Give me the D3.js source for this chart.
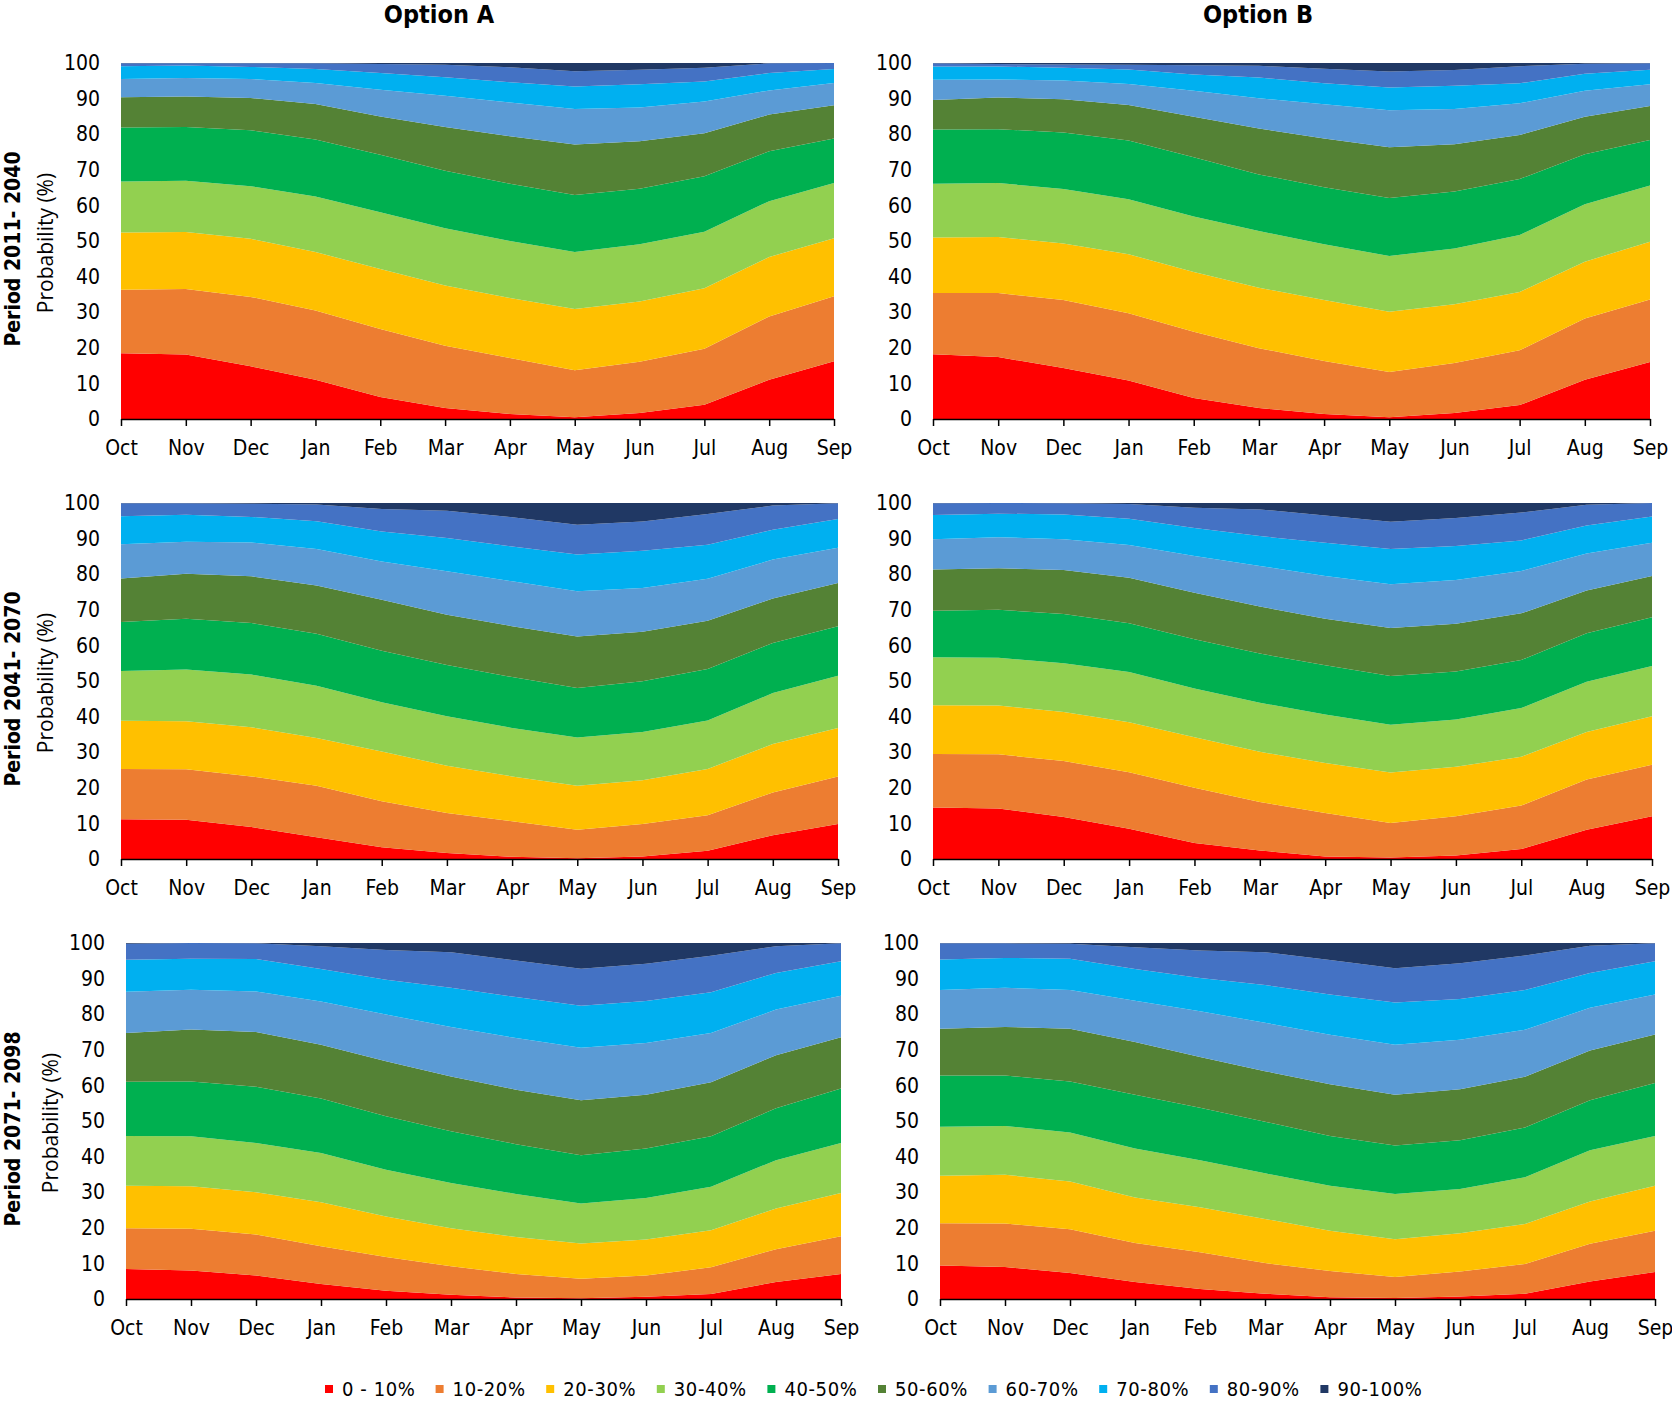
<!DOCTYPE html>
<html>
<head>
<meta charset="utf-8">
<script src="https://cdn.jsdelivr.net/npm/d3@7"></script>
<style>
  body { margin: 0; background: #fff; }
  svg { display: block; }
</style>
</head>
<body>
<div id="chart"></div>
<script>
// ---- data ----
const months = ["Oct", "Nov", "Dec", "Jan", "Feb", "Mar", "Apr", "May", "Jun", "Jul", "Aug", "Sep"];
const bandLabels = ["0 - 10%", "10-20%", "20-30%", "30-40%", "40-50%", "50-60%", "60-70%", "70-80%", "80-90%", "90-100%"];
const bandColors = ["#ff0000", "#ed7d31", "#ffc000", "#92d050", "#00b050", "#548235", "#5b9bd5", "#00b0f0", "#4472c4", "#203864"];
const optionTitles = ["Option A", "Option B"];
const periodLabels = ["Period 2011- 2040", "Period 2041- 2070", "Period 2071- 2098"];
const yTicks = [0, 10, 20, 30, 40, 50, 60, 70, 80, 90, 100];

// cumulative probability (%) at the top of the first 9 classes, one row per month (Oct..Sep)
const optA_2011_2040 = [
  [18.5, 36.3, 52.4, 66.7, 81.9, 90.4, 95.5, 99.1, 99.9],
  [18.1, 36.5, 52.5, 66.9, 82.0, 90.6, 95.8, 99.3, 99.9],
  [14.8, 34.3, 50.6, 65.4, 81.1, 90.2, 95.5, 98.9, 99.9],
  [11.0, 30.5, 46.9, 62.5, 78.5, 88.5, 94.4, 98.3, 99.9],
  [6.2, 25.3, 42.1, 58.1, 74.2, 85.0, 92.5, 97.2, 99.7],
  [3.1, 20.6, 37.5, 53.6, 69.7, 82.0, 90.8, 96.0, 99.5],
  [1.4, 17.1, 34.0, 50.0, 66.1, 79.4, 88.9, 94.6, 98.8],
  [0.5, 13.7, 30.9, 46.9, 62.9, 77.1, 87.1, 93.4, 97.7],
  [1.7, 16.1, 33.0, 49.1, 64.7, 78.0, 87.5, 94.0, 98.1],
  [4.0, 19.7, 36.7, 52.6, 68.2, 80.3, 89.2, 94.8, 98.7],
  [11.0, 28.8, 45.5, 61.2, 75.2, 85.5, 92.3, 97.2, 99.9],
  [16.2, 34.5, 50.8, 66.3, 78.8, 88.1, 94.4, 98.3, 100]
];
const optB_2011_2040 = [
  [18.2, 35.4, 51.0, 66.1, 81.3, 89.6, 95.3, 99.0, 99.9],
  [17.4, 35.4, 51.1, 66.3, 81.4, 90.3, 95.4, 99.0, 99.7],
  [14.3, 33.4, 49.3, 64.6, 80.5, 89.8, 95.1, 98.7, 99.6],
  [10.8, 29.7, 46.3, 61.7, 78.2, 88.2, 94.1, 98.2, 99.5],
  [5.9, 24.5, 41.3, 56.9, 73.5, 84.9, 92.2, 96.8, 99.4],
  [3.1, 19.9, 36.9, 52.8, 68.7, 81.6, 90.1, 95.9, 99.2],
  [1.4, 16.3, 33.4, 49.1, 65.1, 78.8, 88.4, 94.3, 98.4],
  [0.5, 13.2, 30.1, 45.8, 62.1, 76.3, 86.7, 93.1, 97.6],
  [1.7, 15.7, 32.2, 47.9, 63.9, 77.2, 87.1, 93.6, 98.0],
  [3.9, 19.3, 35.7, 51.7, 67.4, 79.8, 88.7, 94.3, 99.1],
  [11.0, 28.2, 44.2, 60.3, 74.4, 84.9, 92.2, 97.0, 99.8],
  [16.0, 33.6, 49.8, 65.6, 78.4, 87.9, 94.0, 98.1, 99.9]
];
const optA_2041_2070 = [
  [11.2, 25.3, 38.8, 52.8, 66.6, 78.8, 88.4, 96.3, 99.9],
  [11.0, 25.2, 38.7, 53.2, 67.5, 80.1, 89.1, 96.7, 99.9],
  [9.0, 23.2, 37.0, 51.8, 66.3, 79.4, 88.9, 96.1, 99.8],
  [6.1, 20.6, 34.0, 48.7, 63.3, 76.8, 87.1, 94.9, 99.6],
  [3.3, 16.2, 30.2, 44.0, 58.5, 72.8, 83.6, 92.0, 98.3],
  [1.7, 12.9, 26.2, 40.1, 54.5, 68.6, 80.8, 90.2, 97.8],
  [0.6, 10.6, 23.2, 36.8, 51.1, 65.4, 78.0, 87.8, 96.0],
  [0.2, 8.2, 20.6, 34.1, 48.0, 62.5, 75.2, 85.5, 93.9],
  [0.7, 9.8, 22.1, 35.7, 49.9, 63.8, 76.1, 86.6, 94.8],
  [2.3, 12.3, 25.3, 38.9, 53.4, 66.9, 78.7, 88.3, 96.9],
  [6.7, 18.7, 32.3, 46.6, 60.7, 73.2, 84.1, 92.5, 99.3],
  [9.8, 23.2, 36.8, 51.5, 65.4, 77.5, 87.4, 95.5, 99.9]
];
const optB_2041_2070 = [
  [14.5, 29.5, 43.2, 56.7, 69.7, 81.3, 89.8, 96.6, 99.9],
  [14.2, 29.4, 43.1, 56.5, 70.0, 81.7, 90.4, 97.0, 100],
  [11.8, 27.5, 41.3, 55.0, 68.8, 81.2, 89.8, 96.8, 99.9],
  [8.5, 24.4, 38.4, 52.5, 66.2, 79.0, 88.2, 95.6, 99.7],
  [4.5, 20.0, 34.2, 47.9, 61.7, 74.8, 85.1, 93.0, 98.7],
  [2.4, 16.0, 30.1, 43.9, 57.7, 70.9, 82.3, 90.7, 98.2],
  [0.7, 12.9, 27.0, 40.6, 54.4, 67.5, 79.5, 88.8, 96.5],
  [0.4, 10.1, 24.3, 37.7, 51.4, 64.9, 77.2, 87.1, 94.7],
  [1.0, 12.0, 25.9, 39.2, 52.7, 66.1, 78.4, 87.9, 95.8],
  [2.8, 15.0, 28.7, 42.4, 55.9, 69.0, 80.9, 89.5, 97.3],
  [8.2, 22.3, 35.7, 49.8, 63.4, 75.4, 85.8, 93.7, 99.5],
  [12.0, 26.5, 40.1, 54.2, 67.9, 79.5, 88.8, 96.2, 100]
];
const optA_2071_2098 = [
  [8.4, 19.9, 31.8, 45.8, 61.0, 74.7, 86.3, 95.3, 99.8],
  [8.0, 19.7, 31.7, 45.7, 61.1, 75.7, 86.9, 95.6, 100],
  [6.6, 18.1, 30.0, 43.8, 59.6, 75.0, 86.4, 95.5, 99.9],
  [4.2, 14.8, 27.2, 41.0, 56.3, 71.4, 83.6, 92.7, 99.1],
  [2.3, 11.8, 23.2, 36.3, 51.3, 66.8, 79.9, 89.7, 98.0],
  [1.2, 9.2, 19.9, 32.6, 47.1, 62.5, 76.4, 87.4, 97.4],
  [0.4, 7.0, 17.4, 29.5, 43.5, 58.8, 73.3, 84.8, 95.1],
  [0.2, 5.7, 15.6, 26.8, 40.4, 55.8, 70.6, 82.4, 92.8],
  [0.6, 6.6, 16.7, 28.4, 42.3, 57.4, 71.9, 83.7, 94.2],
  [1.4, 8.9, 19.3, 31.5, 45.7, 60.9, 74.7, 86.2, 96.4],
  [4.8, 14.0, 25.4, 39.0, 53.6, 68.5, 81.3, 91.6, 99.1],
  [7.0, 17.6, 29.8, 43.8, 59.1, 73.5, 85.2, 94.9, 99.9]
];
const optB_2071_2098 = [
  [9.4, 21.3, 34.6, 48.4, 62.8, 75.9, 86.8, 95.4, 99.9],
  [9.0, 21.2, 34.9, 48.6, 62.8, 76.4, 87.4, 95.8, 99.9],
  [7.3, 19.6, 33.0, 46.8, 61.1, 75.9, 86.8, 95.6, 99.8],
  [4.8, 15.7, 28.5, 42.3, 57.4, 72.2, 83.8, 92.7, 98.8],
  [2.8, 13.1, 25.8, 39.0, 53.7, 68.0, 80.8, 90.2, 97.9],
  [1.5, 10.1, 22.5, 35.3, 49.8, 64.0, 77.6, 88.2, 97.4],
  [0.5, 7.9, 19.2, 31.8, 45.8, 60.3, 74.2, 85.5, 95.2],
  [0.3, 6.2, 16.8, 29.5, 43.1, 57.4, 71.4, 83.3, 92.9],
  [0.7, 7.7, 18.5, 30.9, 44.6, 58.9, 72.8, 84.3, 94.3],
  [1.5, 9.8, 21.1, 34.2, 48.2, 62.4, 75.6, 86.8, 96.5],
  [4.9, 15.5, 27.4, 41.8, 55.8, 69.8, 81.8, 91.6, 99.2],
  [7.6, 19.2, 31.8, 45.8, 60.7, 74.3, 85.5, 94.9, 99.9]
];

// ---- layout ----
const W = 1672, H = 1403;
const tickFont = '"Liberation Sans Narrow", "DejaVu Sans Condensed", "Liberation Sans", sans-serif';

const panels = [
  { row: 0, col: 0, data: optA_2011_2040, left: 121, right: 834, top: 63, bottom: 419 },
  { row: 0, col: 1, data: optB_2011_2040, left: 933, right: 1650, top: 63, bottom: 419 },
  { row: 1, col: 0, data: optA_2041_2070, left: 121, right: 838, top: 503, bottom: 859 },
  { row: 1, col: 1, data: optB_2041_2070, left: 933, right: 1652, top: 503, bottom: 859 },
  { row: 2, col: 0, data: optA_2071_2098, left: 126, right: 841, top: 943, bottom: 1299 },
  { row: 2, col: 1, data: optB_2071_2098, left: 940, right: 1655, top: 943, bottom: 1299 }
];

const svg = d3.select("#chart").append("svg")
  .attr("width", W)
  .attr("height", H)
  .style("font-family", tickFont);

// lower / upper bound of class k for one month row
const lower = (row, k) => k === 0 ? 0 : row[k - 1];
const upper = (row, k) => k === bandLabels.length - 1 ? 100 : row[k];

panels.forEach(p => {
  const x = d3.scalePoint().domain(months).range([p.left, p.right]).padding(0);
  const y = d3.scaleLinear().domain([0, 100]).range([p.bottom, p.top]);

  const g = svg.append("g");

  bandLabels.forEach((lab, k) => {
    const area = d3.area()
      .x((d, i) => x(months[i]))
      .y0(d => y(lower(d, k)))
      .y1(d => y(upper(d, k)))
      .curve(d3.curveLinear);
    g.append("path")
      .datum(p.data)
      .attr("fill", bandColors[k])
      .attr("d", area);
  });

  // x axis
  const xAxis = g.append("g")
    .attr("transform", `translate(0,${p.bottom})`)
    .call(d3.axisBottom(x).tickSize(7).tickPadding(14).tickSizeOuter(0));
  xAxis.select(".domain").attr("stroke", "#000").attr("stroke-width", 1.5);
  xAxis.selectAll(".tick line").attr("stroke", "#000").attr("stroke-width", 1.5);
  xAxis.selectAll("text")
    .attr("fill", "#000")
    .style("font-size", "21px")
    .style("font-family", tickFont);

  // y axis (labels only)
  const yAxis = g.append("g")
    .attr("transform", `translate(${p.left},0)`)
    .call(d3.axisLeft(y).tickValues(yTicks).tickSize(0).tickPadding(21));
  yAxis.select(".domain").remove();
  yAxis.selectAll("text")
    .attr("fill", "#000")
    .style("font-size", "21px")
    .style("font-family", tickFont);

  if (p.col === 0) {
    const cy = (p.top + p.bottom) / 2;
    const titleX = p.left - 75;
    g.append("text")
      .attr("transform", `translate(${titleX},${cy + 2}) rotate(-90)`)
      .attr("text-anchor", "middle")
      .attr("dy", "0.35em")
      .style("font-family", '"Open Sans", "Noto Sans", sans-serif')
      .style("font-size", "21px")
      .attr("fill", "#000")
      .text("Probability (%)");
    g.append("text")
      .attr("transform", `translate(13,${cy + 8}) rotate(-90)`)
      .attr("text-anchor", "middle")
      .attr("dy", "0.35em")
      .style("font-size", "21px")
      .style("font-weight", "bold")
      .attr("fill", "#000")
      .text(periodLabels[p.row]);
  }

  if (p.row === 0) {
    svg.append("text")
      .attr("x", p.col === 0 ? 439 : 1258)
      .attr("y", 23)
      .attr("text-anchor", "middle")
      .style("font-size", "25px")
      .style("font-weight", "bold")
      .attr("fill", "#000")
      .text(optionTitles[p.col]);
  }
});

// ---- legend ----
const legend = svg.append("g").attr("transform", "translate(325,1389)");
const legendStep = 110.6;
bandLabels.forEach((lab, k) => {
  const item = legend.append("g").attr("transform", `translate(${k * legendStep},0)`);
  item.append("rect")
    .attr("x", 0).attr("y", -4)
    .attr("width", 8).attr("height", 8)
    .attr("fill", bandColors[k]);
  item.append("text")
    .attr("x", 17)
    .attr("dy", "0.35em")
    .style("font-size", "20px")
    .style("letter-spacing", "0.6px")
    .attr("fill", "#000")
    .text(lab);
});
</script>
</body>
</html>
